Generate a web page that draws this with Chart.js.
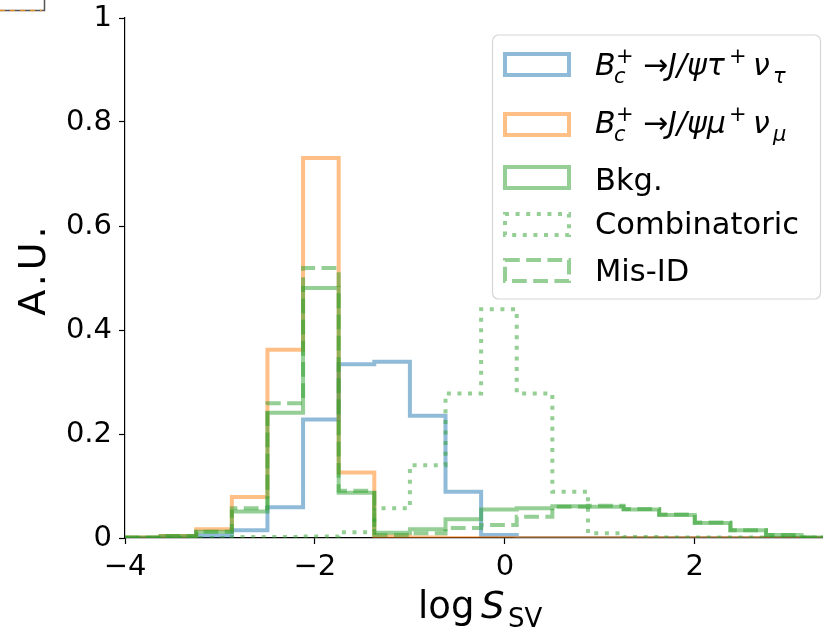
<!DOCTYPE html>
<html>
<head>
<meta charset="utf-8">
<script src="https://cdn.jsdelivr.net/npm/chart.js@4.4.1/dist/chart.umd.min.js"></script>
<style>
  html, body { margin: 0; padding: 0; background: #fff; }
  #wrap { width: 823px; height: 629px; }
</style>
</head>
<body>
<div id="wrap"><canvas id="chart" width="823" height="629"></canvas></div>
<script>
// histogram bin edges (20 bins) and normalised contents
const binEdges = [-4, -3.625, -3.25, -2.875, -2.5, -2.125, -1.75, -1.375, -1.0, -0.625,
  -0.25, 0.125, 0.5, 0.875, 1.25, 1.625, 2.0, 2.375, 2.75, 3.125, 3.5];

const tauValues = [0, 0.001, 0.005, 0.015, 0.059, 0.228, 0.334, 0.339, 0.235, 0.089,
  0.006, 0, 0, 0, 0, 0, 0, 0, 0, 0];
const muValues = [0.001, 0.004, 0.017, 0.079, 0.362, 0.731, 0.126, 0.003, 0.001, 0,
  0, 0, 0, 0, 0, 0, 0, 0, 0, 0];
const bkgValues = [0.001, 0.004, 0.012, 0.051, 0.241, 0.481, 0.087, 0.010, 0.017, 0.036,
  0.055, 0.057, 0.061, 0.060, 0.055, 0.044, 0.029, 0.015, 0.006, 0.001];
const combValues = [0, 0, 0, 0.002, 0.002, 0.003, 0.011, 0.057, 0.140, 0.278,
  0.440, 0.278, 0.089, 0.009, 0.002, 0.001, 0.001, 0.001, 0.001, 0.001];
const misidValues = [0.001, 0.004, 0.012, 0.057, 0.259, 0.519, 0.091, 0.006, 0.009, 0.019,
  0.025, 0.041, 0.060, 0.062, 0.056, 0.045, 0.030, 0.015, 0.006, 0.001];

const xTicks = [-4, -2, 0, 2];
const yTicks = [0, 0.2, 0.4, 0.6, 0.8, 1];

const BLUE = 'rgba(31,119,180,0.5)';
const ORANGE = 'rgba(255,127,14,0.5)';
const GREEN = 'rgba(44,160,44,0.5)';
const FONT = '"DejaVu Sans", "Noto Sans", sans-serif';
const LW = 4;
const DOTS = [LW, 1.65 * LW];
const DASHES = [3.7 * LW, 1.6 * LW];

// outline of a step histogram: up from 0, across each bin, back down to 0
function stepOutline(values) {
  const pts = [{ x: binEdges[0], y: 0 }];
  values.forEach((v, i) => {
    pts.push({ x: binEdges[i], y: v });
    pts.push({ x: binEdges[i + 1], y: v });
  });
  pts.push({ x: binEdges[values.length], y: 0 });
  return pts;
}

function histDataset(label, values, color, dash, order) {
  return {
    label,
    data: stepOutline(values),
    borderColor: color,
    backgroundColor: 'transparent',
    borderWidth: LW,
    borderDash: dash,
    borderCapStyle: 'butt',
    borderJoinStyle: 'miter',
    pointRadius: 0,
    tension: 0,
    fill: false,
    order,
  };
}

// draws text pieces (italic / sub / superscript) at offsets from x, like mathtext
function drawRuns(ctx, x, y, runs) {
  runs.forEach((r) => {
    ctx.font = (r.italic ? 'italic ' : '') + r.size + 'px ' + FONT;
    ctx.fillText(r.t, x + r.x, y + (r.dy || 0));
  });
}

function decayRuns(lepton) {
  return [
    { t: 'B', italic: true, size: 30, x: 0 },
    { t: 'c', italic: true, size: 21, dy: 8, x: 19 },
    { t: '+', size: 21, dy: -12, x: 21 },
    { t: '\u2192', size: 30, x: 48 },
    { t: 'J/\u03C8' + lepton, italic: true, size: 30, x: 73 },
    { t: '+', size: 21, dy: -12, x: 134 },
    { t: '\u03BD', italic: true, size: 30, x: 158 },
    { t: lepton, italic: true, size: 21, dy: 8, x: 178 },
  ];
}

const legendRows = [
  { color: BLUE, dash: [], runs: decayRuns('\u03C4'), box: 52, base: 75 },
  { color: ORANGE, dash: [], runs: decayRuns('\u03BC'), box: 112, base: 133 },
  { color: GREEN, dash: [], text: 'Bkg.', box: 165, base: 190 },
  { color: GREEN, dash: DOTS, text: 'Combinatoric', box: 212, base: 234 },
  { color: GREEN, dash: DASHES, text: 'Mis-ID', box: 258, base: 281 },
];

const decorPlugin = {
  id: 'decor',
  afterDraw(chart) {
    const ctx = chart.ctx;
    ctx.save();

    // bit of the neighbouring panel's frame in the corner
    ctx.lineWidth = 1.5;
    ctx.strokeStyle = '#555';
    ctx.beginPath();
    ctx.moveTo(0, 10.5);
    ctx.lineTo(44.5, 10.5);
    ctx.lineTo(44.5, 0);
    ctx.stroke();
    ctx.strokeStyle = 'rgba(255,160,40,0.8)';
    ctx.setLineDash([5, 5]);
    ctx.beginPath();
    ctx.moveTo(0, 10.5);
    ctx.lineTo(42, 10.5);
    ctx.stroke();
    ctx.setLineDash([]);

    // legend frame
    const lx = 492.5, ly = 35, lw = 328, lh = 264, rr = 6;
    ctx.beginPath();
    ctx.moveTo(lx + rr, ly);
    ctx.lineTo(lx + lw - rr, ly);
    ctx.arcTo(lx + lw, ly, lx + lw, ly + rr, rr);
    ctx.lineTo(lx + lw, ly + lh - rr);
    ctx.arcTo(lx + lw, ly + lh, lx + lw - rr, ly + lh, rr);
    ctx.lineTo(lx + rr, ly + lh);
    ctx.arcTo(lx, ly + lh, lx, ly + lh - rr, rr);
    ctx.lineTo(lx, ly + rr);
    ctx.arcTo(lx, ly, lx + rr, ly, rr);
    ctx.closePath();
    ctx.fillStyle = 'rgba(255,255,255,0.8)';
    ctx.fill();
    ctx.strokeStyle = '#d6d6d6';
    ctx.lineWidth = 1.2;
    ctx.stroke();

    ctx.fillStyle = '#000';
    ctx.textBaseline = 'alphabetic';
    ctx.textAlign = 'left';
    legendRows.forEach((row) => {
      ctx.strokeStyle = row.color;
      ctx.lineWidth = LW;
      ctx.setLineDash(row.dash);
      ctx.lineDashOffset = 0;
      ctx.strokeRect(505, row.box + 2, 64, 21);
      ctx.setLineDash([]);
      if (row.runs) {
        drawRuns(ctx, 595, row.base, row.runs);
      } else {
        ctx.font = '30.5px ' + FONT;
        ctx.fillText(row.text, 595, row.base);
      }
    });

    // x axis title: log S_SV
    drawRuns(ctx, 418, 618, [
      { t: 'log', size: 37, x: 0 },
      { t: 'S', italic: true, size: 37, x: 63 },
      { t: 'SV', size: 26, dy: 9, x: 90 },
    ]);

    // y axis title
    ctx.translate(45, 271);
    ctx.rotate(-Math.PI / 2);
    ctx.textAlign = 'center';
    ctx.font = '38px ' + FONT;
    ctx.letterSpacing = '4px';
    ctx.fillText('A.U.', 2, 0);
    ctx.restore();
  },
};

new Chart(document.getElementById('chart'), {
  type: 'line',
  data: {
    datasets: [
      histDataset('B_c+ -> J/psi tau+ nu_tau', tauValues, BLUE, [], 5),
      histDataset('B_c+ -> J/psi mu+ nu_mu', muValues, ORANGE, [], 4),
      histDataset('Bkg.', bkgValues, GREEN, [], 3),
      histDataset('Combinatoric', combValues, GREEN, DOTS, 2),
      histDataset('Mis-ID', misidValues, GREEN, DASHES, 1),
    ],
  },
  options: {
    responsive: false,
    devicePixelRatio: 1,
    animation: false,
    layout: { padding: { top: 18, right: 0, left: 0, bottom: 0 } },
    plugins: {
      legend: { display: false },
      tooltip: { enabled: false },
    },
    scales: {
      x: {
        type: 'linear',
        min: -4,
        max: 3.35,
        afterBuildTicks: (scale) => {
          scale.ticks = xTicks.map((v) => ({ value: v }));
        },
        afterFit: (scale) => {
          scale.height = 91;
          scale.paddingLeft = 0;
          scale.paddingRight = 0;
        },
        ticks: {
          color: '#000',
          padding: 6,
          maxRotation: 0,
          font: { family: FONT, size: 29 },
          callback: (v) => String(v).replace('-', '\u2212'),
        },
        grid: {
          drawOnChartArea: false,
          drawTicks: true,
          tickLength: 6,
          tickWidth: 1.2,
          tickColor: '#000',
        },
        border: { display: true, color: '#000', width: 1.2 },
      },
      y: {
        type: 'linear',
        min: 0,
        max: 1,
        afterBuildTicks: (scale) => {
          scale.ticks = yTicks.map((v) => ({ value: v }));
        },
        afterFit: (scale) => {
          scale.width = 125;
          scale.paddingTop = 0;
          scale.paddingBottom = 0;
        },
        ticks: {
          color: '#000',
          padding: 7,
          font: { family: FONT, size: 29 },
          callback: (v) => String(v),
        },
        grid: {
          drawOnChartArea: false,
          drawTicks: true,
          tickLength: 6,
          tickWidth: 1.2,
          tickColor: '#000',
        },
        border: { display: true, color: '#000', width: 1.2 },
      },
    },
  },
  plugins: [decorPlugin],
});
</script>
</body>
</html>
